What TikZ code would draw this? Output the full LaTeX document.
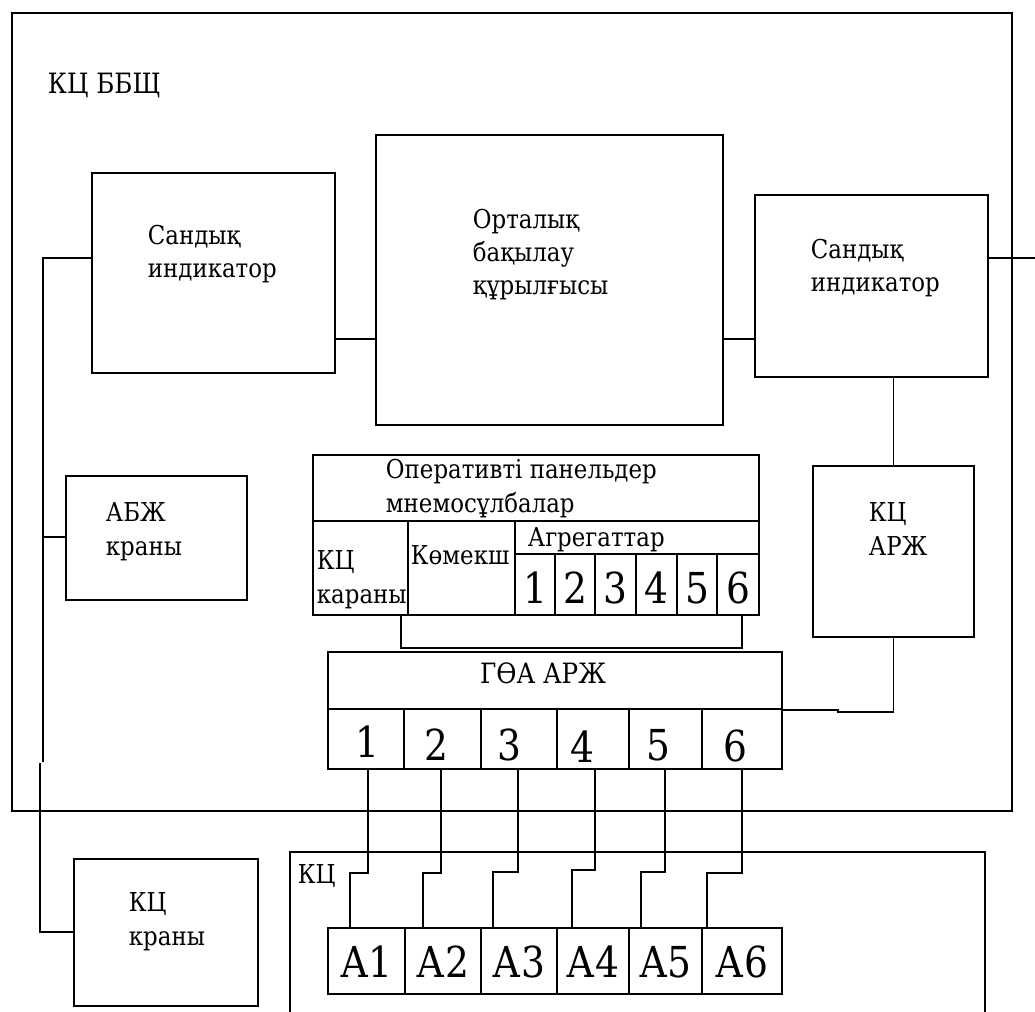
\documentclass[tikz,border=0pt]{standalone}
\usepackage{fontspec}
\setmainfont[FakeStretch=0.88]{DejaVu Serif}
\newfontfamily\serf[FakeStretch=0.88]{DejaVu Serif}
\usetikzlibrary{fit}

\tikzset{every picture/.style={line width=1.4pt}}
\tikzset{
  blok/.style={draw, inner sep=0pt},
  txt/.style={inner sep=0pt, anchor=base west, align=left, font=\serf\fontsize{19.5}{25}\selectfont},
  midtxt/.style={inner sep=0pt, font=\serf\fontsize{21}{26}\selectfont},
  bigtxt/.style={inner sep=0pt, anchor=base, font=\serf\fontsize{32}{40}\selectfont},
}

\begin{document}
\begin{tikzpicture}[x=0.75pt,y=0.75pt,yscale=-1,xscale=1]
		\useasboundingbox (0,0) rectangle (1035,1012);
		
		%Outer frame
		\node [blok, fit={(12,13) (1012,811)}] (bbsch) {};
		\node [midtxt, anchor=base west] (bbschT) at (47,94) {КЦ ББЩ};
		
		%Blocks
		\node [blok, fit={(92,173) (335,373)}] (sandL) {};
		\node [blok, fit={(376,135) (723,425)}] (orta) {};
		\node [blok, fit={(755,195) (988,377)}] (sandR) {};
		\node [blok, fit={(66,476) (247,600)}] (abzh) {};
		\node [blok, fit={(813,466) (974,637)}] (kcArzh) {};
		\node [blok, fit={(313,455) (759,615)}] (opPanel) {};
		\node [blok, fit={(328,652) (782,769)}] (goa) {};
		\node [blok, fit={(74,859) (258,1006)}] (kcKran) {};
		\node [blok, fit={(290,852) (985,1040)}] (kc) {};
		
		% Text Node (anchor = baseline of last line)
		\node [txt] (sandLT) at (147,278) {Сандық\\индикатор};
		\node [txt] (ortaT) at (472,295) {Орталық\\бақылау\\құрылғысы};
		\node [txt] (sandRT) at (810,292) {Сандық\\индикатор};
		\node [txt] (abzhT) at (105,555) {АБЖ\\краны};
		\node [txt] (kcArzhT) at (868,555) {КЦ\\АРЖ};
		\node [txt] (kcKranT) at (128,945) {КЦ\\краны};
		\node [txt] (kcT) at (297,883) {КЦ};
		
		%Panel table
		\draw (opPanel.west |- 0,521) -- (opPanel.east |- 0,521);
		\draw (515,554) -- (opPanel.east |- 0,554);
		\foreach \x in {408,515} \draw (\x,521) -- (opPanel.south -| \x,0);
		\foreach \x in {555,595,636,677,717} \draw (\x,554) -- (opPanel.south -| \x,0);
		\node [txt] (opT) at (385,512) {Оперативті панельдер\\мнемосұлбалар};
		\node [txt] (opKcT) at (316,603) {КЦ\\караны};
		\node [txt] (opKomT) at (410,564) {Көмекш};
		\node [txt] (opAgrT) at (527,546) {Агрегаттар};
		\foreach \i/\x in {1/535,2/575,3/615.5,4/656.5,5/697,6/738}
			\node [bigtxt] (op\i) at (\x,603) {\i};
		
		%GOA table
		\draw (goa.west |- 0,709) -- (goa.east |- 0,709);
		\foreach \x in {404,481,557,629,702} \draw (\x,709) -- (goa.south -| \x,0);
		\node [midtxt, anchor=base] (goaT) at (543,683) {ГӨА АРЖ};
		\foreach \i/\x/\y in {1/367/757,2/436/760,3/509/760,4/582/762,5/658/760,6/735/761}
			\node [bigtxt] (g\i) at (\x,\y) {\i};
		
		%A cells
		\foreach \i/\l/\r in {1/328/405,2/405/481,3/481/557,4/557/629,5/629/702,6/702/782}{
			\node [blok, fit={(\l,928) (\r,994)}] (a\i) {};
			\node [bigtxt] (a\i t) at (a\i.center |- 0,977) {А\i};
		}
		
		%Connectors
		\draw (sandL.west |- 0,258) -| (43,762);
		\draw (40,763) |- (kcKran.west |- 0,932);
		\draw (abzh.west |- 0,537) -- (43,537);
		\draw (sandL.east |- 0,339) -- (orta.west |- 0,339);
		\draw (orta.east |- 0,339) -- (sandR.west |- 0,339);
		\draw (sandR.east |- 0,258) -- (1035,258);
		\draw (kcArzh.north) -- (kcArzh.north |- sandR.south);
		\draw (kcArzh.south) |- (838,712) -- (838,710) -- (goa.east |- 0,710);
		\draw (opPanel.south -| 401,0) |- (742,648) -- (opPanel.south -| 742,0);
		\foreach \i/\xt/\yj/\xb in {1/368/873/350,2/441/873/423,3/518/872/493,4/595/870/572,5/665/872/641,6/742/873/707}
			\draw (goa.south -| \xt,0) |- (\xb,\yj) -- (a\i.north -| \xb,0);
		
	\end{tikzpicture}
\end{document}
